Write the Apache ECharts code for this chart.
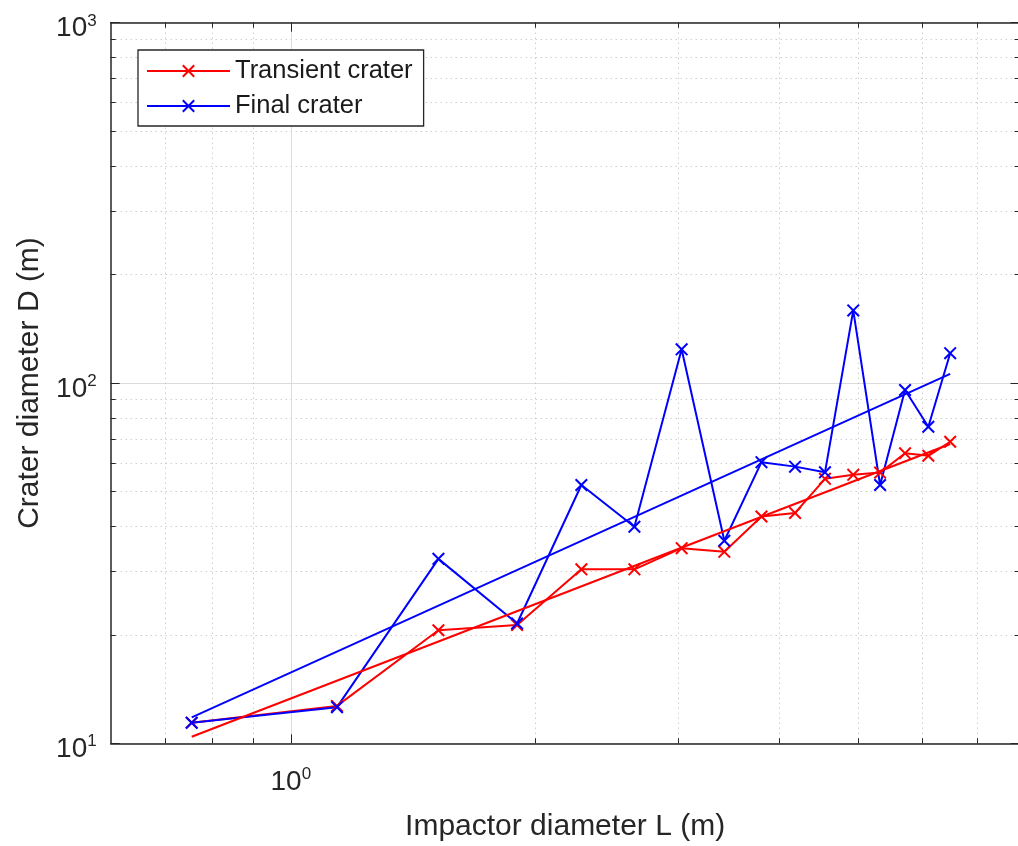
<!DOCTYPE html>
<html>
<head>
<meta charset="utf-8">
<title>Crater diameter vs impactor diameter</title>
<script src="https://cdn.jsdelivr.net/npm/echarts@6/dist/echarts.min.js"></script>
<style>
  html, body { margin: 0; padding: 0; background: #ffffff; }
  #chart { width: 1018px; height: 846px; }
</style>
</head>
<body>
<div id="chart"></div>
<script>
// Impactor diameter L (m) for each simulated impact
const impactorDiameter = [0.755, 1.14, 1.52, 1.90, 2.28, 2.65, 3.03, 3.42, 3.80, 4.18, 4.55, 4.93, 5.32, 5.71, 6.10, 6.49];
// Transient crater diameter D (m)
const transientCrater = [11.4, 12.7, 20.6, 21.3, 30.4, 30.4, 34.8, 34.0, 42.6, 43.6, 54.2, 55.6, 56.4, 63.8, 62.8, 68.7];
// Final crater diameter D (m)
const finalCrater = [11.4, 12.6, 32.5, 21.5, 52.1, 39.9, 124, 36.5, 60.3, 58.6, 56.5, 159, 52.1, 95.6, 75.6, 121];
// Power-law fit lines, end points [L, D]
const transientFit = [[0.755, 10.43], [6.49, 67.7]];
const finalFit = [[0.755, 11.8], [6.49, 106]];

// Axis ranges and log-decade tick values
const xRange = [0.6, 7.9];
const yRange = [10, 1000];
const xMajorTicks = [1];
const xMinorTicks = [0.7, 0.8, 0.9, 2, 3, 4, 5, 6, 7];
const yMajorTicks = [10, 100, 1000];
const yMinorTicks = [20, 30, 40, 50, 60, 70, 80, 90, 200, 300, 400, 500, 600, 700, 800, 900];

const FONT = '"Liberation Sans", Arial, Helvetica, sans-serif';
const AXIS_COLOR = '#262626';
const lg = Math.log10;

const xLog = xRange.map(lg);
const yLog = yRange.map(lg);

// Overlay axis (in log10 units) that only carries ticks / grid lines / labels
function tickAxis(position, range, ticks, len, extra) {
  return Object.assign({
    type: 'value',
    position: position,
    min: range[0],
    max: range[1],
    silent: true,
    axisLine: { show: false, onZero: false },
    axisTick: {
      show: true, inside: true, length: len, customValues: ticks,
      lineStyle: { color: AXIS_COLOR, width: 1 }
    },
    axisLabel: { show: false },
    splitLine: { show: false },
    minorTick: { show: false },
    minorSplitLine: { show: false }
  }, extra || {});
}

const boxLine = { show: true, onZero: false, lineStyle: { color: AXIS_COLOR, width: 1.5 } };
const minorGrid = { show: true, lineStyle: { color: '#b8b8b8', width: 1, type: [1, 4] } };
const majorGrid = { show: true, lineStyle: { color: '#dcdcdc', width: 1, type: 'solid' } };

const supRich = {
  b: { fontSize: 28, lineHeight: 32, fontFamily: FONT, color: AXIS_COLOR },
  s: { fontSize: 17, lineHeight: 17, verticalAlign: 'top', fontFamily: FONT, color: AXIS_COLOR }
};
const powerLabel = v => '{b|10}{s|' + Math.round(v) + '}';

const xAxes = [
  {
    type: 'log', logBase: 10, position: 'bottom',
    min: xRange[0], max: xRange[1],
    axisLine: boxLine,
    axisTick: { show: false }, axisLabel: { show: false }, splitLine: { show: false },
    name: 'Impactor diameter L (m)', nameLocation: 'middle', nameGap: 68,
    nameMoveOverlap: false,
    nameTextStyle: { fontSize: 30, color: AXIS_COLOR, fontFamily: FONT }
  },
  tickAxis('bottom', xLog, xMinorTicks.map(lg), 5, { splitLine: minorGrid }),
  tickAxis('bottom', xLog, xMajorTicks.map(lg), 9, {
    splitLine: majorGrid,
    axisLabel: {
      show: true, customValues: xMajorTicks.map(lg), margin: 23,
      formatter: powerLabel, rich: supRich
    }
  }),
  tickAxis('top', xLog, xMinorTicks.map(lg), 5),
  tickAxis('top', xLog, xMajorTicks.map(lg), 9, { axisLine: boxLine })
];

const yAxes = [
  {
    type: 'log', logBase: 10, position: 'left',
    min: yRange[0], max: yRange[1],
    axisLine: boxLine,
    axisTick: { show: false }, axisLabel: { show: false }, splitLine: { show: false },
    name: 'Crater diameter D (m)', nameLocation: 'middle', nameGap: 66, nameRotate: 90,
    nameMoveOverlap: false,
    nameTextStyle: { fontSize: 30, color: AXIS_COLOR, fontFamily: FONT }
  },
  tickAxis('left', yLog, yMinorTicks.map(lg), 5, { splitLine: minorGrid }),
  tickAxis('left', yLog, yMajorTicks.map(lg), 9, {
    splitLine: majorGrid,
    axisLabel: {
      show: true, customValues: yMajorTicks.map(lg), margin: 14,
      padding: [12, 0, 0, 0],
      formatter: powerLabel, rich: supRich
    }
  }),
  tickAxis('right', yLog, yMinorTicks.map(lg), 5),
  tickAxis('right', yLog, yMajorTicks.map(lg), 9, { axisLine: boxLine })
];

// Cross marker drawn as a filled "x"
const CROSS = 'path://M0,1.1L1.1,0L10,8.9L8.9,10Z M8.9,0L10,1.1L1.1,10L0,8.9Z';

function dataSeries(name, values, color) {
  return {
    name: name, type: 'line', xAxisIndex: 0, yAxisIndex: 0,
    data: impactorDiameter.map((L, i) => [L, values[i]]),
    symbol: CROSS, symbolSize: 13, showSymbol: true,
    itemStyle: { color: color, borderWidth: 0 },
    lineStyle: { color: color, width: 2 },
    emphasis: { disabled: true },
    z: 3
  };
}

function fitSeries(name, pts, color) {
  return {
    name: name, type: 'line', xAxisIndex: 0, yAxisIndex: 0,
    data: pts, symbol: 'none', showSymbol: false,
    lineStyle: { color: color, width: 2 },
    emphasis: { disabled: true },
    z: 3
  };
}

const chart = echarts.init(document.getElementById('chart'), null, { renderer: 'canvas' });
chart.setOption({
  animation: false,
  backgroundColor: '#ffffff',
  textStyle: { fontFamily: FONT },
  grid: {
    left: 110.7, top: 22.7, width: 908.8, height: 720.6,
    containLabel: false, outerBoundsMode: 'none'
  },
  legend: {
    data: ['Transient crater', 'Final crater'],
    orient: 'vertical', left: 138, top: 50,
    itemWidth: 83, itemHeight: 16, itemGap: 5,
    padding: [6, 11, 5, 8],
    backgroundColor: '#ffffff', borderColor: AXIS_COLOR, borderWidth: 1.3, borderRadius: 0,
    textStyle: { fontSize: 25.5, lineHeight: 30, color: '#1a1a1a', fontFamily: FONT },
    selectedMode: false
  },
  xAxis: xAxes,
  yAxis: yAxes,
  series: [
    dataSeries('Transient crater', transientCrater, '#ff0000'),
    dataSeries('Final crater', finalCrater, '#0000ff'),
    fitSeries('Transient fit', transientFit, '#ff0000'),
    fitSeries('Final fit', finalFit, '#0000ff')
  ]
});
</script>
</body>
</html>
